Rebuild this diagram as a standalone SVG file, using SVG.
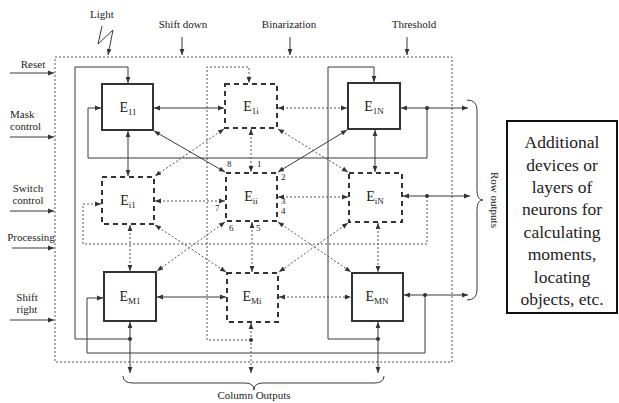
<svg xmlns="http://www.w3.org/2000/svg" width="619" height="403" viewBox="0 0 619 403">
<style>
.t{font-family:"Liberation Serif","Times New Roman",serif;fill:#222}
.lbl{font-size:11px}
.nd{font-size:14px;text-anchor:middle}
.sub{font-size:9px}
.s{fill:none;stroke:#3a3a3a;stroke-width:1}
.d{fill:none;stroke:#555;stroke-width:1;stroke-dasharray:2 2}
.da{marker-start:url(#ah);marker-end:url(#ah)}
.sa{marker-end:url(#ah)}
.solid{fill:#fff;stroke:#333;stroke-width:2}
.dash{fill:#fff;stroke:#333;stroke-width:2;stroke-dasharray:5 4}
.dot{fill:#333}
</style>
<defs>
<marker id="ah" viewBox="0 0 10 10" refX="10" refY="5" markerWidth="7" markerHeight="6" markerUnits="userSpaceOnUse" orient="auto-start-reverse"><path d="M0,1 L10,5 L0,9 z" fill="#333"/></marker>
</defs>
<rect width="619" height="403" fill="#fff"/>
<g id="frame">
<rect x="55" y="57" width="397" height="305" fill="none" stroke="#555" stroke-width="1" stroke-dasharray="2 2"/>
</g>
<g id="inputs">
<text class="t lbl" x="90" y="18">Light</text>
<path class="s sa" d="M102,26 L98,44 L113,30 L108,55"/>
<text class="t lbl" x="183" y="28" text-anchor="middle">Shift down</text>
<path class="s sa" d="M182,37 L182,55"/>
<text class="t lbl" x="289" y="28" text-anchor="middle">Binarization</text>
<path class="s sa" d="M290,37 L290,55"/>
<text class="t lbl" x="414" y="28" text-anchor="middle">Threshold</text>
<path class="s sa" d="M407,37 L407,55"/>
<text class="t lbl" x="33" y="68" text-anchor="middle">Reset</text>
<path class="s sa" d="M10,73 L54,73"/>
<text class="t lbl" x="10" y="118">Mask</text>
<text class="t lbl" x="10" y="130">control</text>
<path class="s sa" d="M10,137 L54,137"/>
<text class="t lbl" x="28" y="192" text-anchor="middle">Switch</text>
<text class="t lbl" x="28" y="204" text-anchor="middle">control</text>
<path class="s sa" d="M10,211 L54,211"/>
<text class="t lbl" x="31" y="241" text-anchor="middle">Processing</text>
<path class="s sa" d="M12,248 L54,248"/>
<text class="t lbl" x="27" y="301" text-anchor="middle">Shift</text>
<text class="t lbl" x="27" y="313" text-anchor="middle">right</text>
<path class="s sa" d="M10,320 L54,320"/>
</g>
<g id="connectors">
<!-- loops -->
<path class="s sa" d="M130,339 L75,339 L75,67 L128,67 L128,83"/>
<path class="d sa" d="M251,340 L207,340 L207,67 L249,67 L249,83"/>
<path class="s sa" d="M378,339 L328,339 L328,67 L374,67 L374,82"/>
<path class="s sa" d="M427,108 L427,158 L88,158 L88,108 L101,108"/>
<path class="d sa" d="M427,196 L427,244 L83,244 L83,204 L101,204"/>
<path class="s sa" d="M425,295 L425,353 L87,353 L87,298 L103,298"/>
<!-- neighbours -->
<path class="s da" d="M154,108 L224,108"/>
<path class="d da" d="M278,108 L347,108"/>
<path class="s da" d="M128,131 L128,176"/>
<path class="d da" d="M251,129 L251,172"/>
<path class="s da" d="M375,130 L375,172"/>
<path class="d da" d="M155,201 L225,201"/>
<path class="d da" d="M278,197 L348,197"/>
<path class="d da" d="M130,225 L130,271"/>
<path class="d da" d="M252,222 L252,272"/>
<path class="d da" d="M378,223 L378,272"/>
<path class="s da" d="M157,297 L226,297"/>
<path class="d da" d="M279,297 L351,297"/>
<path class="s da" d="M154,131 L225,172"/>
<path class="s da" d="M347,130 L278,172"/>
<path class="d da" d="M224,129 L155,176"/>
<path class="d da" d="M278,129 L348,172"/>
<path class="d da" d="M155,225 L226,272"/>
<path class="d da" d="M225,222 L157,271"/>
<path class="d da" d="M278,222 L351,272"/>
<path class="d da" d="M348,223 L279,272"/>
<!-- outputs -->
<path class="s da" d="M401,108 L468,108"/>
<path class="s da" d="M403,196 L470,196"/>
<path class="s da" d="M404,295 L468,295"/>
<path class="s da" d="M130,322 L130,373"/>
<path class="d da" d="M251,323 L251,373"/>
<path class="s da" d="M378,322 L378,373"/>
<circle class="dot" cx="130" cy="339" r="2"/>
<circle class="dot" cx="251" cy="340" r="2"/>
<circle class="dot" cx="378" cy="339" r="2"/>
<circle class="dot" cx="427" cy="108" r="2"/>
<circle class="dot" cx="427" cy="196" r="2"/>
<circle class="dot" cx="425" cy="295" r="2"/>
</g>
<g id="E11"><rect class="solid" x="102" y="84" width="51" height="46"/><text class="t nd" x="128" y="112">E<tspan class="sub" dy="3">11</tspan></text></g>
<g id="E1i"><rect class="dash" x="225" y="84" width="52" height="44"/><text class="t nd" x="251" y="111">E<tspan class="sub" dy="3">1i</tspan></text></g>
<g id="E1N"><rect class="solid" x="348" y="83" width="52" height="46"/><text class="t nd" x="374" y="111">E<tspan class="sub" dy="3">1N</tspan></text></g>
<g id="Ei1"><rect class="dash" x="102" y="177" width="52" height="47"/><text class="t nd" x="128" y="205">E<tspan class="sub" dy="3">i1</tspan></text></g>
<g id="Eii"><rect class="dash" x="226" y="173" width="51" height="48"/><text class="t nd" x="251" y="201">E<tspan class="sub" dy="3">ii</tspan></text>
<text class="t" font-size="9" x="227" y="167">8</text>
<text class="t" font-size="9" x="257" y="167">1</text>
<text class="t" font-size="9" x="281" y="180">2</text>
<text class="t" font-size="9" x="281" y="204">3</text>
<text class="t" font-size="9" x="281" y="214">4</text>
<text class="t" font-size="9" x="256" y="231">5</text>
<text class="t" font-size="9" x="229" y="231">6</text>
<text class="t" font-size="9" x="215" y="211">7</text>
</g>
<g id="EiN"><rect class="dash" x="349" y="173" width="53" height="49"/><text class="t nd" x="375" y="201">E<tspan class="sub" dy="3">iN</tspan></text></g>
<g id="EM1"><rect class="solid" x="104" y="272" width="52" height="49"/><text class="t nd" x="130" y="301">E<tspan class="sub" dy="3">M1</tspan></text></g>
<g id="EMi"><rect class="dash" x="227" y="273" width="51" height="49"/><text class="t nd" x="252" y="301">E<tspan class="sub" dy="3">Mi</tspan></text></g>
<g id="EMN"><rect class="solid" x="352" y="273" width="51" height="48"/><text class="t nd" x="377" y="301">E<tspan class="sub" dy="3">MN</tspan></text></g>
<g id="rowOutputs">
<path class="s" d="M467,100 Q477,100 477,110 L477,190 Q477,200 483,200 Q477,200 477,210 L477,290 Q477,300 467,300"/>
<text class="t" font-size="11" text-anchor="middle" transform="translate(491,200) rotate(90)">Row outputs</text>
</g>
<g id="columnOutputs">
<path class="s" d="M123,376 Q123,383 133,383 L245,383 Q254,383 254,390 Q254,383 263,383 L374,383 Q384,383 384,376"/>
<text class="t lbl" x="254" y="399" text-anchor="middle">Column Outputs</text>
</g>
<g id="note">
<rect x="507" y="121" width="110" height="192" fill="#fff" stroke="#111" stroke-width="2"/>
<g class="t" font-size="17.5" text-anchor="middle">
<text x="562" y="148">Additional</text>
<text x="562" y="171">devices or</text>
<text x="562" y="193">layers of</text>
<text x="562" y="215">neurons for</text>
<text x="562" y="238">calculating</text>
<text x="562" y="260">moments,</text>
<text x="562" y="283">locating</text>
<text x="562" y="305">objects, etc.</text>
</g>
</g>
</svg>
